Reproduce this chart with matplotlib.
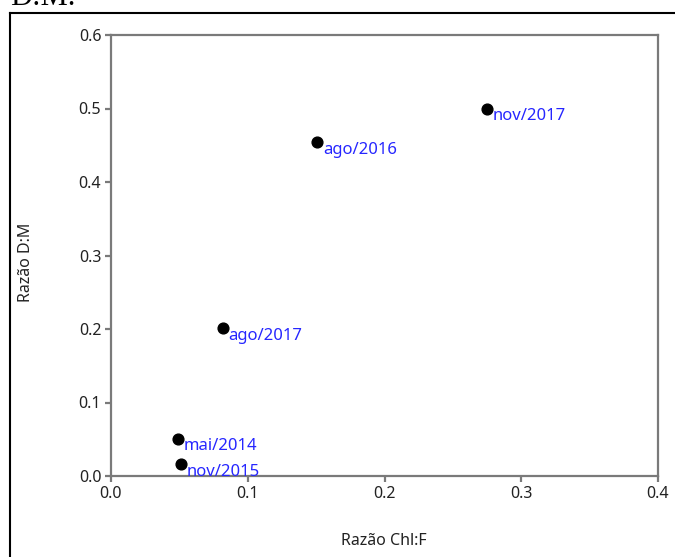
import matplotlib
matplotlib.use("Agg")
import matplotlib.pyplot as plt
from matplotlib.lines import Line2D

# Chl:F ratio vs D:M ratio per sampling campaign
campaigns = ["mai/2014", "nov/2015", "ago/2017", "ago/2016", "nov/2017"]
chl_f = [0.049, 0.051, 0.082, 0.151, 0.275]
d_m = [0.051, 0.016, 0.201, 0.454, 0.500]

x_ticks = [0.0, 0.1, 0.2, 0.3, 0.4]
y_ticks = [0.0, 0.1, 0.2, 0.3, 0.4, 0.5, 0.6]

plt.rcParams["font.family"] = ["Noto Sans", "DejaVu Sans"]

W, H = 675, 557
fig = plt.figure(figsize=(W / 100, H / 100), dpi=100)
ax = fig.add_axes([111 / W, 1 - 476 / H, (658 - 111) / W, (476 - 35) / H])

spine_col = "#7a7a7a"
for side in ax.spines.values():
    side.set_color(spine_col)
    side.set_linewidth(1.6)

ax.scatter(chl_f, d_m, s=60, color="black", zorder=3, clip_on=False)
for name, x, y in zip(campaigns, chl_f, d_m):
    t = ax.annotate(name, (x, y), xytext=(4, -5.5), textcoords="offset points",
                    ha="left", va="center", color="#2626ff", fontsize=12,
                    annotation_clip=False)
    # labels sitting on the x axis get cut at the plot edge
    t.set_clip_on(True)
    t.set_clip_box(ax.bbox)

ax.set_xlim(0, 0.4)
ax.set_ylim(0, 0.6)
ax.set_xticks(x_ticks)
ax.set_yticks(y_ticks)
ax.set_xticklabels([f"{v:.1f}" for v in x_ticks])
ax.set_yticklabels([f"{v:.1f}" for v in y_ticks])
ax.tick_params(direction="out", length=4, width=1.6, color=spine_col,
               labelsize=11.5, labelcolor="#222222", pad=3)

fig.text(384 / W, 1 - 541 / H, "Razão Chl:F", ha="center", va="center",
         fontsize=11.5, color="#222222")
fig.text(26 / W, 1 - 262 / H, "Razão D:M", ha="center", va="center",
         rotation=90, fontsize=11.5, color="#222222")

# surrounding frame and heading cut at the top edge
fig.add_artist(Line2D([10 / W, 10 / W], [0, 1 - 12.5 / H], color="black",
                      lw=1.5, transform=fig.transFigure))
fig.add_artist(Line2D([10 / W, 1], [1 - 12.5 / H, 1 - 12.5 / H], color="black",
                      lw=1.5, transform=fig.transFigure))
fig.text(10 / W, 1 - 5 / H, "D:M.", family="Liberation Serif", fontsize=22,
         ha="left", va="baseline", color="black")

fig.savefig("out.png", dpi=100)
